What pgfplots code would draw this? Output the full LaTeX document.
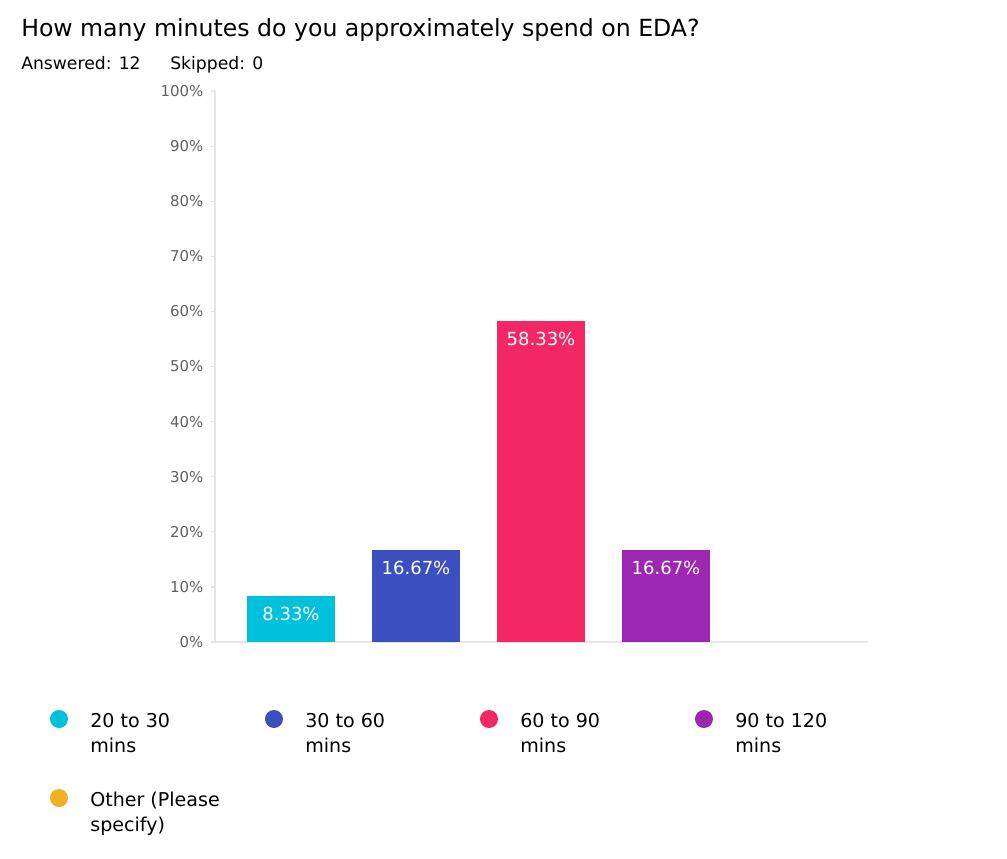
\documentclass[border=0pt]{standalone}
\usepackage{pgfplots}
\pgfplotsset{compat=1.18}
\usepackage{fontspec}
\setmainfont{DejaVu Sans}
\definecolor{ccyan}{HTML}{00C1DB}
\definecolor{cblue}{HTML}{3B4FBF}
\definecolor{cpink}{HTML}{F22763}
\definecolor{cpurple}{HTML}{9D27B0}
\definecolor{corange}{HTML}{F2B027}
\definecolor{axgray}{HTML}{E6E6E6}
\definecolor{ticktext}{HTML}{606060}
\pgfplotsset{
  barbase/.style={ybar, bar width=66pt, bar shift=0pt, draw=none,
    legend image code/.code={\fill[##1, draw=none] (6.75pt,6.5pt) circle (6.75pt);}},
  lbl/.style={nodes near coords={\pgfmathprintnumber[fixed,fixed zerofill,precision=2]{\pgfplotspointmeta}\%},
    every node near coord/.append style={anchor=base, yshift=-18.5pt, text=white, font=\fontsize{13.5}{16}\selectfont}},
}
\begin{document}
\begin{tikzpicture}
\useasboundingbox (0,0) rectangle (755.25pt,-643.5pt);
\fill[white] (0,0) rectangle (755.25pt,-643.5pt);
\node[anchor=base west, inner sep=0pt, font=\fontsize{17.7}{21}\selectfont] at (15.75pt,-27pt) {How many minutes do you approximately spend on EDA?};
\node[anchor=base west, inner sep=0pt, font=\fontsize{12.9}{15}\selectfont] at (15.75pt,-51.75pt) {Answered: 12};
\node[anchor=base west, inner sep=0pt, font=\fontsize{12.9}{15}\selectfont] at (127.5pt,-51.75pt) {Skipped: 0};
\begin{axis}[
  at={(161.25pt,-481.5pt)}, anchor=south west,
  scale only axis, width=489.75pt, height=413.25pt,
  xmin=-0.608, xmax=4.616, ymin=0, ymax=100,
  axis lines=left, axis line style={-, draw=axgray, line width=0.9pt},
  xtick=\empty,
  ytick={0,10,...,100},
  major tick length=3pt,
  tick align=outside,
  tick style={draw=axgray, line width=0.9pt},
  yticklabel={\pgfmathprintnumber{\tick}\%},
  yticklabel style={font=\fontsize{11.2}{13}\selectfont, text=ticktext, xshift=-2.25pt},
  /pgf/number format/assume math mode=true,
  legend columns=4,
  legend style={at={(-0.2527,-0.1234)}, anchor=north west, draw=none, fill=none,
    inner sep=0pt, outer sep=0pt, column sep=14.75pt, row sep=42.5pt,
    font=\fontsize{14.3}{18.5}\selectfont, cells={anchor=base west},
    /tikz/every even column/.append style={column sep=9pt}},
]
\addplot[barbase, fill=ccyan, lbl] coordinates {(0,8.33)};
\addlegendentry{\parbox[t]{120pt}{20 to 30\\mins}}
\addplot[barbase, fill=cblue, lbl] coordinates {(1,16.67)};
\addlegendentry{\parbox[t]{120pt}{30 to 60\\mins}}
\addplot[barbase, fill=cpink, lbl] coordinates {(2,58.33)};
\addlegendentry{\parbox[t]{120pt}{60 to 90\\mins}}
\addplot[barbase, fill=cpurple, lbl] coordinates {(3,16.67)};
\addlegendentry{\parbox[t]{120pt}{90 to 120\\mins}}
\addplot[barbase, fill=none, legend image code/.code={\fill[corange, draw=none] (6.75pt,6.5pt) circle (6.75pt);}] coordinates {(4,0)};
\addlegendentry{\parbox[t]{120pt}{Other (Please\\specify)}}
\end{axis}
\end{tikzpicture}
\end{document}
